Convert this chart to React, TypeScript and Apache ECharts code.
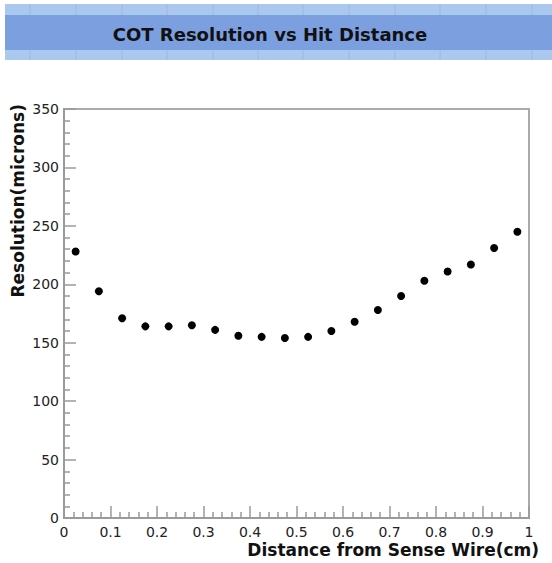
import { useEffect, useRef } from "react";
import * as echarts from "echarts";

const chartTitle = "COT Resolution vs Hit Distance";
const xAxisName = "Distance from Sense Wire(cm)";
const yAxisName = "Resolution(microns)";

const distance = [
  0.025, 0.075, 0.125, 0.175, 0.225, 0.275, 0.325, 0.375, 0.425, 0.475,
  0.525, 0.575, 0.625, 0.675, 0.725, 0.775, 0.825, 0.875, 0.925, 0.975,
];
const resolution = [
  228, 194, 171, 164, 164, 165, 161, 156, 155, 154,
  155, 160, 168, 178, 190, 203, 211, 217, 231, 245,
];

const stripeXs = [30, 76, 122, 167, 213, 258, 303, 349, 395, 440, 486, 532];

export default function App() {
  const ref = useRef<HTMLDivElement>(null);
  useEffect(() => {
    const chart = echarts.init(ref.current!, null, { renderer: "svg" });
    const gray = "#9a9a9a";
    const graphics: any[] = [
      {
        type: "rect",
        z: 1,
        shape: { x: 5, y: 4, width: 547, height: 56 },
        style: { fill: "#abc9ef" },
      },
      ...stripeXs.map((x) => ({
        type: "line",
        z: 2,
        shape: { x1: x, y1: 4, x2: x, y2: 60 },
        style: { stroke: "#a3b4e6", lineWidth: 1 },
      })),
      {
        type: "rect",
        z: 3,
        shape: { x: 5, y: 15, width: 547, height: 35 },
        style: { fill: "#7c9fe0" },
      },
      {
        type: "text",
        z: 4,
        x: 270,
        y: 34,
        style: {
          text: chartTitle,
          fill: "#111",
          font: "bold 18px 'DejaVu Sans'",
          textAlign: "center",
          textVerticalAlign: "middle",
        },
      },
      {
        type: "text",
        z: 4,
        x: 18,
        y: 104,
        rotation: Math.PI / 2,
        style: {
          text: yAxisName,
          fill: "#111",
          font: "bold 17px 'DejaVu Sans'",
          textAlign: "right",
          textVerticalAlign: "middle",
        },
      },
      {
        type: "text",
        z: 4,
        x: 539,
        y: 550,
        style: {
          text: xAxisName,
          fill: "#111",
          font: "bold 17px 'DejaVu Sans'",
          textAlign: "right",
          textVerticalAlign: "middle",
        },
      },
    ];

    chart.setOption({
      animation: false,
      backgroundColor: "#ffffff",
      grid: {
        left: 64,
        right: 23,
        top: 109,
        bottom: 45,
        show: true,
        borderColor: "#aaaaaa",
        borderWidth: 2,
        backgroundColor: "transparent",
      },
      xAxis: {
        type: "value",
        min: 0,
        max: 1,
        interval: 0.1,
        axisLine: { show: true, onZero: false, lineStyle: { color: gray, width: 2 } },
        axisTick: { show: true, inside: true, length: 12, lineStyle: { color: gray, width: 1.5 } },
        minorTick: { show: true, splitNumber: 5, length: 6, lineStyle: { color: gray, width: 1.5 } },
        splitLine: { show: false },
        minorSplitLine: { show: false },
        axisLabel: {
          margin: 7,
          color: "#222",
          fontSize: 14,
          fontFamily: "DejaVu Sans",
        },
      },
      yAxis: {
        type: "value",
        min: 0,
        max: 350,
        interval: 50,
        axisLine: { show: true, onZero: false, lineStyle: { color: gray, width: 2 } },
        axisTick: { show: true, inside: true, length: 12, lineStyle: { color: gray, width: 1.5 } },
        minorTick: { show: true, splitNumber: 5, length: 6, lineStyle: { color: gray, width: 1.5 } },
        splitLine: { show: false },
        minorSplitLine: { show: false },
        axisLabel: {
          margin: 5,
          color: "#222",
          fontSize: 14,
          fontFamily: "DejaVu Sans",
        },
      },
      series: [
        {
          type: "scatter",
          symbol: "circle",
          symbolSize: 8,
          itemStyle: { color: "#000", opacity: 1 },
          data: distance.map((d, i) => [d, resolution[i]]),
        },
      ],
      graphic: graphics,
    });
    return () => chart.dispose();
  }, []);
  return (
    <div
      ref={ref}
      style={{ position: "fixed", left: 0, top: 0, width: 552, height: 563, background: "#fff" }}
    />
  );
}
